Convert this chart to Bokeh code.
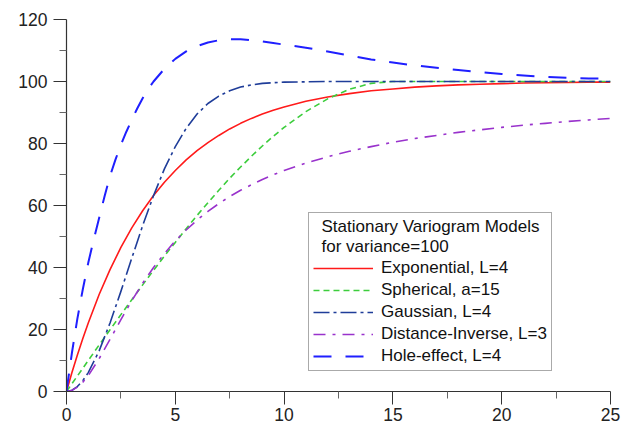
from bokeh.plotting import figure
from bokeh.models import Range1d, FixedTicker, Legend, LegendItem
from bokeh.embed import file_html
from bokeh.resources import INLINE

# lag distance h
lag = [0, 0.25, 0.5, 0.75, 1, 1.5, 2, 2.5, 3, 3.5, 4, 4.5, 5, 5.5, 6, 6.5, 7, 7.5,
       8, 8.5, 9, 9.5, 10, 11, 12, 13, 14, 15, 16, 17, 18, 19, 20, 21, 22, 23, 24, 25]

exponential = [0, 6.1, 11.8, 17.1, 22.1, 31.3, 39.3, 46.5, 52.8, 58.3, 63.2, 67.5, 71.3, 74.7,
               77.7, 80.3, 82.6, 84.7, 86.5, 88.1, 89.5, 90.7, 91.8, 93.6, 95.0, 96.1, 97.0,
               97.6, 98.2, 98.6, 98.9, 99.1, 99.3, 99.5, 99.6, 99.7, 99.8, 99.8]

spherical = [0, 2.5, 5.0, 7.5, 10.0, 15.0, 19.9, 24.8, 29.6, 34.4, 39.1, 43.7, 48.1, 52.5,
             56.8, 60.9, 64.9, 68.8, 72.4, 75.9, 79.2, 82.3, 85.2, 90.3, 94.4, 97.5, 99.4,
             100, 100, 100, 100, 100, 100, 100, 100, 100, 100, 100]

gaussian = [0, 0.4, 1.6, 3.5, 6.1, 13.1, 22.1, 32.3, 43.0, 53.5, 63.2, 71.8, 79.0, 84.9,
            89.5, 92.9, 95.3, 97.0, 98.2, 98.9, 99.4, 99.6, 99.8, 99.9, 100, 100, 100,
            100, 100, 100, 100, 100, 100, 100, 100, 100, 100, 100]

distance_inverse = [0, 0.35, 1.4, 3.0, 5.1, 10.6, 16.8, 23.2, 29.3, 34.9, 40.0, 44.5, 48.6,
                    52.1, 55.3, 58.1, 60.6, 62.9, 64.9, 66.7, 68.4, 69.9, 71.3, 73.7, 75.7,
                    77.5, 79.0, 80.4, 81.6, 82.6, 83.6, 84.4, 85.2, 85.9, 86.5, 87.1, 87.6, 88.1]

# the hole-effect model rises steeply, so it is read on a finer lag grid
hole_lag = [0, 0.25, 0.5, 0.75, 1, 1.25, 1.5, 1.75, 2, 2.25, 2.5, 2.75, 3, 3.25, 3.5, 3.75,
            4, 4.5, 5, 5.5, 6, 6.5, 7, 7.5, 8, 8.5, 9, 9.5, 10, 11, 12, 13, 14, 15, 16, 17,
            18, 19, 20, 21, 22, 23, 24, 25]
hole_effect = [0, 12.5, 23.5, 33.0, 41.5, 49.0, 56.0, 63.0, 69.5, 74.8, 79.6, 83.8, 87.6,
               91.3, 94.6, 97.5, 100.0, 104.1, 107.3, 109.7, 111.4, 112.6, 113.3, 113.6,
               113.6, 113.3, 112.9, 112.4, 111.9, 110.9, 109.7, 108.4, 107.1, 106.1, 105.2,
               104.4, 103.7, 103.0, 102.4, 101.9, 101.5, 101.2, 101.0, 100.9]

series_labels = ["Exponential, L=4", "Spherical, a=15", "Gaussian, L=4",
                 "Distance-Inverse, L=3", "Hole-effect, L=4"]
title_lines = ["Stationary Variogram Models", "for variance=100"]

x_ticks = [0, 5, 10, 15, 20, 25]
x_minor = [2.5, 7.5, 12.5, 17.5, 22.5]
y_ticks = [0, 20, 40, 60, 80, 100, 120]
y_minor = [10, 30, 50, 70, 90, 110]

FONT = "Liberation Sans"
TICK_SIZE = "17.5px"

p = figure(width=623, height=426, output_backend="svg", toolbar_location=None,
           x_range=Range1d(0, 25), y_range=Range1d(0, 120),
           min_border_left=66, min_border_right=13, min_border_top=19, min_border_bottom=35)
p.outline_line_color = None
p.xgrid.visible = False
p.ygrid.visible = False
p.background_fill_color = "white"
p.border_fill_color = "white"

for ax, ticks, minor in ((p.xaxis[0], x_ticks, x_minor), (p.yaxis[0], y_ticks, y_minor)):
    ax.ticker = FixedTicker(ticks=ticks, minor_ticks=minor)
    ax.axis_line_color = "#333333"
    ax.axis_line_width = 1.2
    ax.major_tick_line_color = "#333333"
    ax.minor_tick_line_color = "#666666"
    ax.major_tick_out = 13
    ax.major_tick_in = 0
    ax.minor_tick_out = 7
    ax.minor_tick_in = 0
    ax.major_label_text_font = FONT
    ax.major_label_text_font_size = TICK_SIZE
    ax.major_label_text_color = "#222222"
p.xaxis.major_label_standoff = 3
p.yaxis.major_label_standoff = 6

styles = [
    dict(color="#ff1a1a", width=1.6, dash="solid"),
    dict(color="#3ccd3c", width=1.6, dash="6 4"),
    dict(color="#1f3d99", width=1.6, dash="16 4 3 4"),
    dict(color="#9932cc", width=1.6, dash="12 7 3 7"),
    dict(color="#1f1fff", width=2.0, dash="18 14"),
]
xs = [lag, lag, lag, lag, hole_lag]
values = [exponential, spherical, gaussian, distance_inverse, hole_effect]

items = []
for xv, vals, st, lab in zip(xs, values, styles, series_labels):
    r = p.line(xv, vals, line_color=st["color"], line_width=st["width"],
               line_dash=st["dash"], line_join="round")
    items.append(LegendItem(label=lab, renderers=[r]))

# the legend heading is indented a little past the line samples
legend_title = "\n".join("\u2002" + t for t in title_lines)

legend = Legend(items=items, location=(242, 20), title=legend_title,
                title_text_font=FONT, title_text_font_size="17px",
                title_text_font_style="normal", title_text_color="#111111",
                title_standoff=1,
                label_text_font=FONT, label_text_font_size="17px",
                label_text_color="#111111",
                glyph_width=60, glyph_height=20, label_height=20,
                label_standoff=8, spacing=2, padding=4, margin=0,
                border_line_color="#555555", border_line_width=1,
                background_fill_color="white", background_fill_alpha=1)
p.add_layout(legend, "center")

open("out.html", "w").write(file_html(p, INLINE))
